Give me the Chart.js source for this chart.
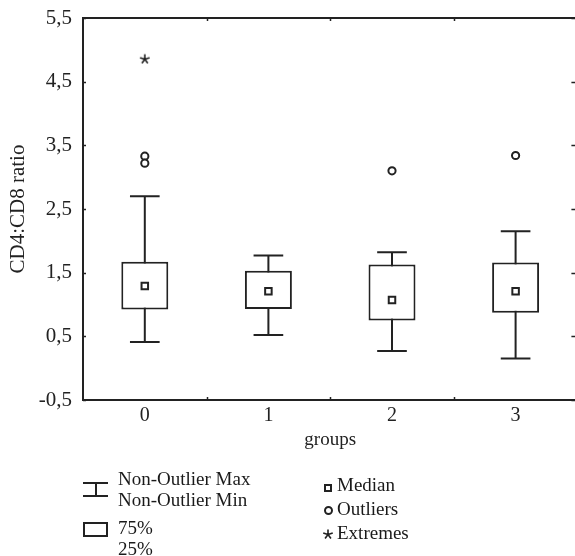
<!DOCTYPE html>
<html>
<head>
<meta charset="utf-8">
<script src="https://cdn.jsdelivr.net/npm/chart.js@4/dist/chart.umd.min.js"></script>
<style>
  html, body { margin: 0; padding: 0; background: #fff; overflow: hidden; }
  #wrap { position: relative; width: 584px; height: 556px; }
  #boxplot { position: absolute; left: 0; top: 0; }
  .lg { position: absolute; font-family: "Liberation Serif", serif; font-size: 19px; color: #1a1a1a; }
  .sym { position: absolute; box-sizing: border-box; }
</style>
</head>
<body>
<div id="wrap">
  <canvas id="boxplot" width="584" height="556"></canvas>

  <div class="sym" style="left:83px;top:482px;width:25px;height:15px;border-top:2px solid #222;border-bottom:2px solid #222;"></div>
  <div class="sym" style="left:95px;top:483px;width:2px;height:13px;background:#222;"></div>
  <div class="lg" style="left:118px;top:468px;line-height:21px;">Non-Outlier Max<br>Non-Outlier Min</div>

  <div class="sym" style="left:83px;top:522px;width:25px;height:15px;border:2px solid #222;"></div>
  <div class="lg" style="left:118px;top:517px;line-height:21px;">75%<br>25%</div>

  <div class="sym" style="left:324px;top:484px;width:8px;height:8px;border:2px solid #222;"></div>
  <div class="sym" style="left:324px;top:506px;width:9px;height:9px;border:2px solid #222;border-radius:50%;"></div>
  <canvas id="legendStar" class="sym" width="12" height="12" style="left:322px;top:528px;"></canvas>
  <div class="lg" style="left:337px;top:473px;line-height:24px;">Median<br>Outliers<br>Extremes</div>
</div>

<script>
// values
const groups = ['0', '1', '2', '3'];
const nonOutlierMax = [2.70, 1.77, 1.82, 2.15];
const nonOutlierMin = [0.41, 0.52, 0.27, 0.15];
const q75 = [1.67, 1.53, 1.63, 1.66];
const q25 = [0.92, 0.93, 0.75, 0.87];
const medians = [1.29, 1.21, 1.07, 1.21];
const outlierGroups = ['0', '0', '2', '3'];
const outlierValues = [3.33, 3.22, 3.10, 3.34];
const extremeGroups = ['0'];
const extremeValues = [4.86];

const yMin = -0.5;
const yMax = 5.5;
const yStep = 1;

const ink = '#222';
const fontFamily = '"Liberation Serif", serif';

function drawStar(ctx, cx, cy, r) {
    ctx.save();
    ctx.strokeStyle = ink;
    ctx.lineWidth = 1.6;
    ctx.beginPath();
    for (let i = 0; i < 5; i++) {
        const a = -Math.PI / 2 + i * 2 * Math.PI / 5;
        ctx.moveTo(cx, cy);
        ctx.lineTo(cx + r * Math.cos(a), cy + r * Math.sin(a));
    }
    ctx.stroke();
    ctx.restore();
}

const starImg = document.createElement('canvas');
starImg.width = 12;
starImg.height = 12;
drawStar(starImg.getContext('2d'), 6, 6.5, 5);
drawStar(document.getElementById('legendStar').getContext('2d'), 6, 6.5, 5);

// whiskers, top frame line and inward tick marks
const framePlugin = {
    id: 'framePlugin',
    beforeDatasetsDraw(chart) {
        const { ctx, scales: { x, y } } = chart;
        const half = (x.getPixelForValue(1) - x.getPixelForValue(0)) * 0.12;
        ctx.save();
        ctx.strokeStyle = ink;
        ctx.lineWidth = 2;
        groups.forEach((g, i) => {
            const cx = x.getPixelForValue(i);
            const yTop = y.getPixelForValue(nonOutlierMax[i]);
            const yBot = y.getPixelForValue(nonOutlierMin[i]);
            ctx.beginPath();
            ctx.moveTo(cx, yTop);
            ctx.lineTo(cx, yBot);
            ctx.moveTo(cx - half, yTop);
            ctx.lineTo(cx + half, yTop);
            ctx.moveTo(cx - half, yBot);
            ctx.lineTo(cx + half, yBot);
            ctx.stroke();
        });
        ctx.restore();
    },
    afterDraw(chart) {
        const { ctx, chartArea: a, scales: { x, y } } = chart;
        ctx.save();
        ctx.strokeStyle = ink;
        ctx.lineWidth = 2;
        ctx.beginPath();
        ctx.moveTo(a.left - 1, a.top);
        ctx.lineTo(a.right + 1, a.top);
        ctx.moveTo(a.right, a.top);
        ctx.lineTo(a.right, a.bottom);
        ctx.stroke();

        ctx.lineWidth = 1.5;
        ctx.beginPath();
        y.ticks.forEach(t => {
            const py = Math.round(y.getPixelForValue(t.value)) + 0.5;
            ctx.moveTo(a.left, py);
            ctx.lineTo(a.left + 3, py);
            ctx.moveTo(a.right - 6, py);
            ctx.lineTo(a.right - 2, py);
        });
        for (let i = 0; i < groups.length - 1; i++) {
            const px = Math.round((x.getPixelForValue(i) + x.getPixelForValue(i + 1)) / 2) + 0.5;
            ctx.moveTo(px, a.top);
            ctx.lineTo(px, a.top + 3);
            ctx.moveTo(px, a.bottom);
            ctx.lineTo(px, a.bottom - 3);
        }
        ctx.stroke();
        ctx.restore();
    }
};

const canvas = document.getElementById('boxplot');

new Chart(canvas, {
    type: 'bar',
    data: {
        labels: groups,
        datasets: [
            {
                label: 'Median',
                type: 'line',
                data: medians,
                showLine: false,
                pointStyle: 'rect',
                pointRadius: 4.6,
                pointBackgroundColor: '#fff',
                pointBorderColor: ink,
                pointBorderWidth: 2,
                order: 1
            },
            {
                label: 'Outliers',
                type: 'line',
                data: outlierGroups.map((g, i) => ({ x: g, y: outlierValues[i] })),
                showLine: false,
                pointStyle: 'circle',
                pointRadius: 3.6,
                pointBackgroundColor: '#fff',
                pointBorderColor: ink,
                pointBorderWidth: 2,
                order: 1
            },
            {
                label: 'Extremes',
                type: 'line',
                data: extremeGroups.map((g, i) => ({ x: g, y: extremeValues[i] })),
                showLine: false,
                pointStyle: starImg,
                order: 1
            },
            {
                label: '25%-75%',
                data: groups.map((g, i) => [q25[i], q75[i]]),
                backgroundColor: '#fff',
                borderColor: ink,
                borderWidth: 2,
                borderSkipped: false,
                categoryPercentage: 1,
                barPercentage: 0.38,
                order: 10
            }
        ]
    },
    options: {
        responsive: false,
        animation: false,
        events: [],
        layout: { padding: { top: 18, right: 3, left: 0, bottom: 105 } },
        plugins: {
            legend: { display: false },
            tooltip: { enabled: false }
        },
        scales: {
            x: {
                grid: { display: false, drawTicks: false },
                border: { display: true, color: ink, width: 2 },
                ticks: { color: ink, padding: 4, font: { family: fontFamily, size: 20 } },
                title: {
                    display: true,
                    text: 'groups',
                    color: ink,
                    padding: { top: 0, bottom: 0 },
                    font: { family: fontFamily, size: 19 }
                },
                afterFit: (scale) => { scale.height = 51; }
            },
            y: {
                min: yMin,
                max: yMax,
                grid: { display: false, drawTicks: false },
                border: { display: true, color: ink, width: 2 },
                ticks: {
                    stepSize: yStep,
                    color: ink,
                    padding: 11,
                    font: { family: fontFamily, size: 21 },
                    callback: (v) => v.toFixed(1).replace('.', ',')
                },
                title: {
                    display: true,
                    text: 'CD4:CD8 ratio',
                    color: ink,
                    padding: 6,
                    font: { family: fontFamily, size: 21 }
                },
                afterFit: (scale) => {
                    scale.width = 83;
                    scale.paddingTop = 0;
                    scale.paddingBottom = 0;
                }
            }
        }
    },
    plugins: [framePlugin]
});
</script>
</body>
</html>
